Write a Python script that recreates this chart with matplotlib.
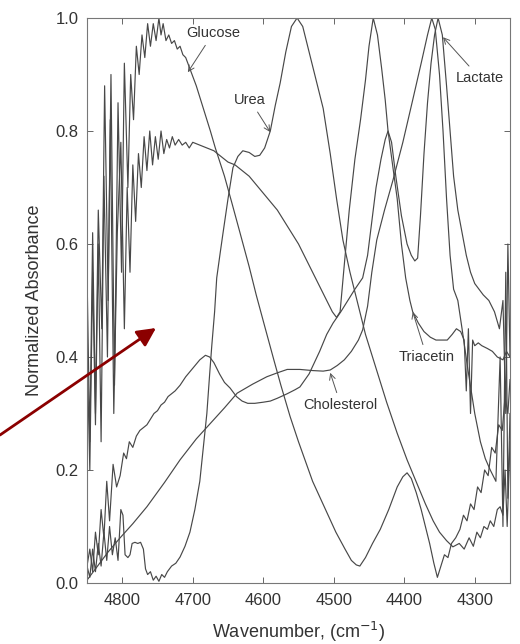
"""NIR spectra of blood analytes - normalized absorbance vs wavenumber."""
import matplotlib
matplotlib.use("Agg")
import matplotlib.pyplot as plt

# (wavenumber, normalized absorbance)
GLUCOSE = [
    (4850, 0.55), (4846, 0.25), (4842, 0.62), (4838, 0.30), (4834, 0.66), (4829, 0.45),
    (4825, 0.88), (4820, 0.50), (4816, 0.90), (4811, 0.35), (4806, 0.85), (4801, 0.55),
    (4797, 0.92), (4792, 0.70), (4788, 0.90), (4784, 0.82), (4780, 0.95), (4776, 0.90),
    (4772, 0.97), (4768, 0.93), (4764, 0.99), (4760, 0.95), (4756, 0.99), (4752, 0.96),
    (4748, 1.00), (4745, 0.97), (4742, 0.99), (4738, 0.96), (4734, 0.97), (4730, 0.955),
    (4726, 0.96), (4722, 0.945), (4718, 0.95), (4714, 0.935), (4710, 0.93), (4704, 0.91),
    (4695, 0.88), (4685, 0.84), (4675, 0.80), (4668, 0.77), (4655, 0.72), (4645, 0.675),
    (4633, 0.62), (4620, 0.56), (4610, 0.51), (4597, 0.45), (4585, 0.395), (4575, 0.35),
    (4562, 0.295), (4550, 0.25), (4540, 0.215), (4530, 0.18), (4519, 0.15), (4508, 0.12),
    (4497, 0.09), (4484, 0.06), (4475, 0.04), (4468, 0.032), (4463, 0.03), (4455, 0.045),
    (4445, 0.07), (4434, 0.095), (4422, 0.13), (4410, 0.17), (4402, 0.188), (4396, 0.195),
    (4390, 0.185), (4383, 0.16), (4376, 0.13), (4370, 0.10), (4364, 0.07), (4358, 0.035),
    (4353, 0.01), (4348, 0.03), (4343, 0.05), (4338, 0.045), (4333, 0.07), (4327, 0.08),
    (4321, 0.095), (4316, 0.12), (4311, 0.11), (4306, 0.14), (4301, 0.13), (4296, 0.17),
    (4291, 0.16), (4286, 0.20), (4281, 0.19), (4276, 0.24), (4271, 0.23), (4266, 0.28),
    (4261, 0.27), (4257, 0.33), (4253, 0.30), (4250, 0.36),
]

UREA = [
    (4850, 0.03), (4846, 0.01), (4842, 0.06), (4838, 0.02), (4834, 0.07), (4830, 0.03),
    (4826, 0.09), (4822, 0.04), (4818, 0.10), (4814, 0.05), (4810, 0.08), (4806, 0.04),
    (4802, 0.13), (4799, 0.12), (4796, 0.05), (4792, 0.045), (4789, 0.05), (4786, 0.07),
    (4782, 0.072), (4778, 0.07), (4774, 0.072), (4770, 0.06), (4767, 0.025), (4764, 0.015),
    (4760, 0.02), (4756, 0.005), (4752, 0.012), (4748, 0.003), (4744, 0.015), (4740, 0.01),
    (4736, 0.02), (4730, 0.03), (4724, 0.035), (4718, 0.046), (4711, 0.065), (4704, 0.09),
    (4697, 0.13), (4690, 0.18), (4685, 0.24), (4680, 0.30), (4676, 0.37), (4673, 0.42),
    (4669, 0.48), (4666, 0.54), (4661, 0.585), (4657, 0.62), (4650, 0.68), (4643, 0.735),
    (4636, 0.755), (4629, 0.765), (4620, 0.762), (4612, 0.755), (4605, 0.757), (4598, 0.77),
    (4590, 0.80), (4583, 0.845), (4576, 0.885), (4568, 0.94), (4560, 0.985), (4552, 1.00),
    (4544, 0.985), (4535, 0.94), (4525, 0.89), (4515, 0.84), (4505, 0.76), (4496, 0.68),
    (4487, 0.607), (4477, 0.55), (4467, 0.50), (4455, 0.44), (4440, 0.38), (4425, 0.32),
    (4410, 0.265), (4396, 0.218), (4380, 0.17), (4370, 0.14), (4359, 0.11), (4350, 0.09),
    (4340, 0.075), (4331, 0.064), (4322, 0.07), (4315, 0.06), (4308, 0.08), (4302, 0.065),
    (4297, 0.09), (4292, 0.08), (4287, 0.10), (4282, 0.095), (4278, 0.11), (4273, 0.10),
    (4268, 0.13), (4264, 0.135), (4260, 0.12), (4257, 0.20), (4254, 0.10), (4250, 0.25),
]

LACTATE = [
    (4850, 0.03), (4846, 0.06), (4842, 0.02), (4838, 0.09), (4834, 0.05), (4830, 0.13),
    (4826, 0.08), (4822, 0.18), (4818, 0.11), (4813, 0.21), (4808, 0.17), (4803, 0.19),
    (4798, 0.23), (4794, 0.22), (4790, 0.25), (4785, 0.24), (4780, 0.26), (4775, 0.27),
    (4770, 0.275), (4765, 0.28), (4760, 0.29), (4755, 0.30), (4750, 0.305), (4745, 0.315),
    (4740, 0.32), (4735, 0.33), (4730, 0.335), (4725, 0.34), (4718, 0.35), (4710, 0.365),
    (4700, 0.38), (4690, 0.395), (4682, 0.403), (4676, 0.40), (4670, 0.39), (4662, 0.37),
    (4655, 0.355), (4647, 0.345), (4638, 0.33), (4630, 0.322), (4622, 0.318), (4612, 0.318),
    (4600, 0.32), (4590, 0.322), (4580, 0.327), (4566, 0.335), (4555, 0.342), (4548, 0.347),
    (4535, 0.37), (4520, 0.41), (4510, 0.44), (4501, 0.46), (4490, 0.48), (4480, 0.50),
    (4470, 0.52), (4459, 0.54), (4452, 0.58), (4446, 0.64), (4440, 0.70), (4433, 0.75),
    (4427, 0.785), (4423, 0.80), (4418, 0.78), (4412, 0.72), (4404, 0.65), (4396, 0.60),
    (4390, 0.58), (4385, 0.57), (4381, 0.575), (4377, 0.65), (4372, 0.76), (4367, 0.85),
    (4362, 0.92), (4357, 0.97), (4352, 1.00), (4346, 0.97), (4340, 0.88), (4335, 0.80),
    (4330, 0.72), (4324, 0.66), (4318, 0.62), (4312, 0.58), (4306, 0.55), (4300, 0.53),
    (4294, 0.52), (4288, 0.51), (4280, 0.50), (4272, 0.48), (4265, 0.45), (4260, 0.50),
    (4256, 0.30), (4253, 0.60), (4250, 0.40),
]

TRIACETIN = [
    (4850, 0.42), (4846, 0.20), (4842, 0.55), (4838, 0.28), (4834, 0.60), (4830, 0.25),
    (4826, 0.72), (4821, 0.40), (4817, 0.82), (4812, 0.30), (4807, 0.62), (4802, 0.78),
    (4797, 0.45), (4793, 0.70), (4789, 0.55), (4785, 0.74), (4781, 0.64), (4777, 0.76),
    (4773, 0.70), (4769, 0.79), (4765, 0.73), (4761, 0.80), (4757, 0.74), (4753, 0.79),
    (4749, 0.75), (4745, 0.80), (4741, 0.76), (4737, 0.785), (4733, 0.77), (4729, 0.79),
    (4725, 0.775), (4720, 0.785), (4715, 0.775), (4710, 0.78), (4705, 0.77), (4700, 0.78),
    (4690, 0.775), (4680, 0.77), (4670, 0.765), (4660, 0.755), (4650, 0.745), (4640, 0.74),
    (4630, 0.73), (4620, 0.72), (4610, 0.705), (4600, 0.69), (4590, 0.675), (4580, 0.66),
    (4570, 0.64), (4560, 0.62), (4550, 0.60), (4540, 0.575), (4530, 0.55), (4520, 0.525),
    (4510, 0.50), (4502, 0.48), (4496, 0.47), (4491, 0.48), (4486, 0.55), (4478, 0.66),
    (4470, 0.75), (4462, 0.82), (4455, 0.89), (4450, 0.95), (4444, 1.00), (4438, 0.97),
    (4432, 0.91), (4427, 0.855), (4423, 0.80), (4416, 0.735), (4410, 0.68), (4404, 0.60),
    (4398, 0.54), (4392, 0.50), (4388, 0.48), (4380, 0.46), (4372, 0.445), (4363, 0.435),
    (4355, 0.43), (4347, 0.43), (4339, 0.43), (4332, 0.44), (4326, 0.45), (4320, 0.445),
    (4315, 0.43), (4312, 0.34), (4309, 0.45), (4306, 0.30), (4303, 0.43), (4300, 0.42),
    (4295, 0.425), (4290, 0.42), (4282, 0.415), (4275, 0.41), (4268, 0.40), (4260, 0.395),
    (4255, 0.41), (4250, 0.40),
]

CHOLESTEROL = [
    (4850, 0.005), (4835, 0.03), (4820, 0.055), (4803, 0.08), (4785, 0.105), (4765, 0.135),
    (4740, 0.178), (4718, 0.218), (4695, 0.255), (4671, 0.288), (4655, 0.31), (4637, 0.336),
    (4615, 0.352), (4595, 0.365), (4580, 0.372), (4566, 0.378), (4548, 0.378), (4530, 0.376),
    (4515, 0.375), (4505, 0.377), (4495, 0.385), (4485, 0.395), (4475, 0.41), (4465, 0.43),
    (4459, 0.448), (4452, 0.49), (4446, 0.55), (4439, 0.607), (4428, 0.66), (4416, 0.713),
    (4402, 0.78), (4388, 0.855), (4376, 0.92), (4367, 0.97), (4361, 1.00), (4356, 0.98),
    (4350, 0.90), (4345, 0.80), (4340, 0.68), (4335, 0.58), (4330, 0.52), (4324, 0.50),
    (4318, 0.45), (4310, 0.38), (4300, 0.30), (4292, 0.25), (4285, 0.22), (4278, 0.20),
    (4270, 0.18), (4264, 0.40), (4260, 0.10), (4256, 0.55), (4253, 0.15), (4250, 0.30),
]

SERIES = [GLUCOSE, UREA, LACTATE, TRIACETIN, CHOLESTEROL]

# label text, arrow tip (on curve), text centre
LABELS = [
    ("Glucose", (4707, 0.904), (4671, 0.973)),
    ("Urea", (4590, 0.798), (4619, 0.855)),
    ("Lactate", (4345, 0.966), (4293, 0.894)),
    ("Triacetin", (4388, 0.480), (4368, 0.400)),
    ("Cholesterol", (4505, 0.372), (4490, 0.315)),
]

XTICKS = [4800, 4700, 4600, 4500, 4400, 4300]
YTICKS = [0.0, 0.2, 0.4, 0.6, 0.8, 1.0]

plt.rcParams["font.family"] = ["Liberation Sans", "DejaVu Sans"]
INK = "#484848"
TXT = "#333333"

fig = plt.figure(figsize=(5.2, 6.44), dpi=100)
ax = fig.add_axes([87 / 520, 1 - 583 / 644, (510 - 87) / 520, (583 - 18) / 644])

for s in SERIES:
    xs, ys = zip(*s)
    ax.plot(xs, ys, color=INK, lw=0.85)

for text, tip, pos in LABELS:
    ax.annotate(text, xy=tip, xytext=pos, ha="center", va="center",
                fontsize=10.5, color=TXT,
                arrowprops=dict(arrowstyle="->", color="#555555", lw=0.7,
                                shrinkA=2, shrinkB=0))

ax.set_xlim(4850, 4250)
ax.set_ylim(0, 1.0)
ax.set_xticks(XTICKS)
ax.set_yticks(YTICKS)
ax.set_yticklabels([f"{v:.1f}" for v in YTICKS])
ax.tick_params(direction="in", length=4, width=0.7, colors="#666666",
               labelcolor=TXT, labelsize=12, top=True, right=True)
ax.tick_params(axis="x", pad=7)
ax.tick_params(axis="y", pad=6)
for sp in ax.spines.values():
    sp.set_color("#777777")
    sp.set_linewidth(0.8)

ax.set_xlabel("Wavenumber, (cm$^{-1}$)", fontsize=13, color=TXT, labelpad=9)
ax.set_ylabel("Normalized Absorbance", fontsize=13, color=TXT, labelpad=9)

# red pointer arrow that reaches in from the left edge
ax.annotate("", xy=(156, 644 - 328), xycoords="figure pixels",
            xytext=(0, 644 - 435), textcoords="figure pixels",
            arrowprops=dict(arrowstyle="-|>", color="#8b0000", lw=2,
                            mutation_scale=28, shrinkA=0, shrinkB=0),
            annotation_clip=False)

fig.savefig("out.png", dpi=100)
